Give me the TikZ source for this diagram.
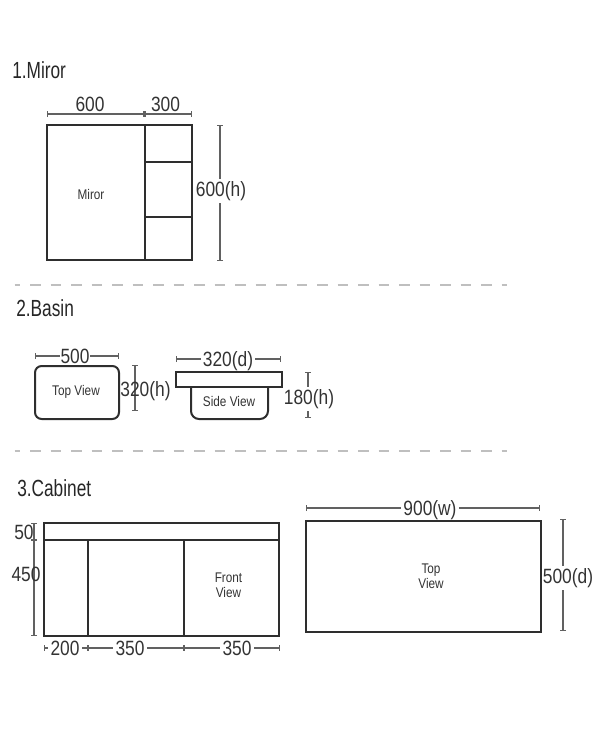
\documentclass[tikz,border=0pt]{standalone}
\usepackage{fontspec}
\setmainfont[FakeStretch=0.84]{Liberation Sans}
\newfontfamily\titlefont[FakeStretch=0.74]{Liberation Sans}
\usetikzlibrary{arrows.meta}
\definecolor{dimgray}{gray}{0.38}
\definecolor{inkgray}{gray}{0.18}
\tikzset{
	part/.style={draw=inkgray, line width=1.5pt},
	dim/.style={draw=dimgray, line width=0.85pt, {Bar[width=4.5pt]}-{Bar[width=4.5pt]}},
	dimstart/.style={draw=dimgray, line width=0.85pt, {Bar[width=4.5pt]}-},
	title/.style={font=\titlefont\fontsize{17.5}{18}\selectfont, text=black!85, anchor=west, inner sep=0pt},
	size/.style={font=\fontsize{15.5}{16}\selectfont, text=black!80, inner sep=1.5pt},
	view/.style={font=\fontsize{10.5}{11.5}\selectfont, text=black!80, inner sep=0pt, align=center},
	sep/.style={draw=black!25, line width=1pt, dash pattern=on 7.9pt off 7.475pt, dash phase=3.75pt}
}
\begin{document}
\begin{tikzpicture}[x=0.75pt, y=-0.75pt, line join=miter]
	\useasboundingbox (0,0) rectangle (600,742);
	% section titles
	\node[title] (tMiror) at (12,70) {1.Miror};
	\node[title] (tBasin) at (16,308) {2.Basin};
	\node[title] (tCabinet) at (17,488) {3.Cabinet};
	% separators
	\coordinate (sa1) at (14.5,285); \coordinate (sa2) at (507,285);
	\coordinate (sb1) at (14.5,451); \coordinate (sb2) at (507,451);
	\draw[sep] (sa1)--(sa2);
	\draw[sep] (sb1)--(sb2);
	% mirror
	\draw[part] (47,125) rectangle (192,260);
	\draw[part] (144.5,125)--(144.5,260);
	\draw[part] (144.5,162)--(192,162);
	\draw[part] (144.5,217)--(192,217);
	\node[view] (lMiror) at (91,194) {Miror};
	\coordinate (ma) at (47,114); \coordinate (mb) at (144.5,114); \coordinate (mc) at (192,114);
	\draw[dim] (ma)--(mb);
	\draw[dim] (mb)--(mc);
	\node[size] (m600) at (90,104.5) {600};
	\node[size] (m300) at (165.5,104.5) {300};
	\coordinate (md) at (220,125); \coordinate (me) at (220,261);
	\node[size] (mh) at (221,191) {600(h)};
	\draw[dimstart] (md)--(md|-mh.north);
	\draw[dimstart] (me)--(me|-mh.south);
	% basin, top view
	\draw[part, rounded corners=5pt] (35,366) rectangle (119,419);
	\node[view] (lTop) at (76,391.5) {Top View};
	\coordinate (ba) at (35,356); \coordinate (bb) at (119,356);
	\node[size, inner sep=0pt] (b500) at (75,356) {500};
	\draw[dimstart] (ba)--(b500);
	\draw[dimstart] (bb)--(b500);
	\coordinate (bc) at (135,365); \coordinate (bd) at (135,411);
	\draw[dim] (bc)--(bd);
	\node[size, inner sep=0pt] (bh) at (145.5,391) {320(h)};
	% basin, side view
	\draw[part] (176,372) rectangle (282,387);
	\draw[part, rounded corners=6pt] (191,387)--(191,419)--(268,419)--(268,387);
	\node[view] (lSide) at (229,401) {Side View};
	\coordinate (be) at (176,359); \coordinate (bf) at (281,359);
	\node[size] (bd320) at (228,361) {320(d)};
	\draw[dimstart] (be)--(be-|bd320.west);
	\draw[dimstart] (bf)--(bf-|bd320.east);
	\coordinate (bg) at (308,372); \coordinate (bi) at (308,418);
	\node[size] (b180) at (309,399) {180(h)};
	\draw[dimstart] (bg)--(bg|-b180.north);
	\draw[dimstart] (bi)--(bi|-b180.south);
	% cabinet, front view
	\draw[part] (44,523) rectangle (279,540);
	\draw[part] (44,540) rectangle (279,635.5);
	\draw[part, line width=1.9pt] (88,540)--(88,635.5);
	\draw[part] (183.5,540)--(183.5,635.5);
	\node[view] (lFront) at (228.5,585) {Front\\View};
	\coordinate (ca) at (34,523); \coordinate (cb) at (34,540); \coordinate (cc) at (34,636);
	\draw[dim] (ca)--(cb);
	\draw[dim] (cb)--(cc);
	\node[size, inner sep=0pt] (c50) at (24,532) {50};
	\node[size, inner sep=0pt] (c450) at (26,574) {450};
	\coordinate (cd) at (44,648); \coordinate (ce) at (88,648);
	\coordinate (cf) at (184,648); \coordinate (cg) at (280,648);
	\node[size] (c200) at (65,648) {200};
	\node[size] (c350a) at (130,648) {350};
	\node[size] (c350b) at (237,648) {350};
	\draw[dimstart] (cd)--(c200);
	\draw[dimstart] (ce)--(c200);
	\draw[dimstart] (ce)--(c350a);
	\draw[dimstart] (cf)--(c350a);
	\draw[dimstart] (cf)--(c350b);
	\draw[dimstart] (cg)--(c350b);
	% cabinet, top view
	\draw[part] (306,521) rectangle (541,632);
	\node[view] (lCab) at (431,576) {Top\\View};
	\coordinate (ch) at (306,508); \coordinate (ci) at (540,508);
	\node[size] (cw) at (430,510) {900(w)};
	\draw[dimstart] (ch)--(ch-|cw.west);
	\draw[dimstart] (ci)--(ci-|cw.east);
	\coordinate (cj) at (563,519); \coordinate (ck) at (563,631);
	\node[size] (cd500) at (568,578) {500(d)};
	\draw[dimstart] (cj)--(cj|-cd500.north);
	\draw[dimstart] (ck)--(ck|-cd500.south);
\end{tikzpicture}
\end{document}
